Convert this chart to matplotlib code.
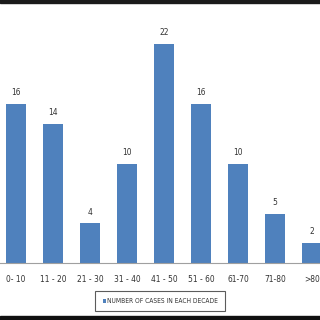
import matplotlib.pyplot as plt
from matplotlib.patches import Rectangle

# age groups and number of cases
decades = ["0- 10", "11 - 20", "21 - 30", "31 - 40", "41 - 50",
           "51 - 60", "61-70", "71-80", ">80"]
cases = [16, 14, 4, 10, 22, 16, 10, 5, 2]

plt.rcParams['font.family'] = ['Liberation Sans Narrow', 'DejaVu Sans Condensed', 'DejaVu Sans']
plt.rcParams['font.stretch'] = 'condensed'

fig = plt.figure(figsize=(3.2, 3.2), dpi=100)
ax = fig.add_axes([0, 0.177, 1, 0.813])

xpos = list(range(len(cases)))
bars = ax.bar(xpos, cases, width=0.557, color='#4F81BD',
              label='NUMBER OF CASES IN EACH DECADE')
for x, v in zip(xpos, cases):
    ax.text(x, v + 0.7, str(v), ha='center', va='bottom', fontsize=6, color='#333333')

ax.set_xlim(-0.432, 8.216)
ax.set_ylim(0, 26.1)
ax.set_yticks([])
ax.set_xticks(xpos)
ax.set_xticklabels(decades, fontsize=6, color='#333333')
ax.tick_params(axis='x', length=0, pad=8.5)
for s in ['top', 'right', 'left']:
    ax.spines[s].set_visible(False)
ax.spines['bottom'].set_color('#A0A0A0')
ax.spines['bottom'].set_linewidth(0.8)

leg = ax.legend(loc='center', bbox_to_anchor=(0.5, -0.145), fontsize=4.8,
                handlelength=0.45, handleheight=0.6, handletextpad=0.15,
                fancybox=False, borderpad=1.1, borderaxespad=0,
                labelcolor='#333333')
leg.get_frame().set_edgecolor('#333333')
leg.get_frame().set_linewidth(0.8)

# dark bands at top and bottom edge of the image
fig.patches.append(Rectangle((0, 0.992), 1, 0.01, transform=fig.transFigure,
                             color='#1a1a1a', zorder=10))
fig.patches.append(Rectangle((0, 0), 1, 0.012, transform=fig.transFigure,
                             color='#111111', zorder=10))

plt.savefig("out.png", dpi=100)
